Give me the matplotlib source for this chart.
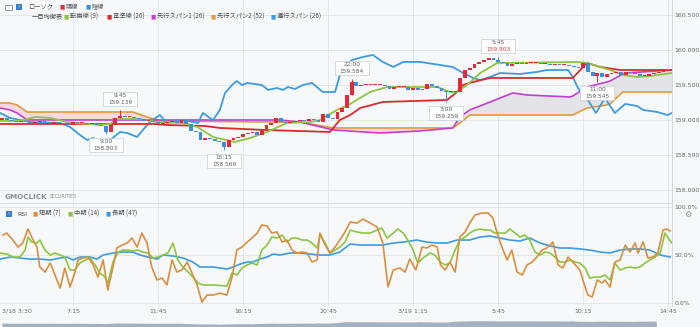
import numpy as np
import matplotlib
matplotlib.use("Agg")
import matplotlib.pyplot as plt
from matplotlib.patches import Rectangle
from matplotlib.transforms import ScaledTranslation

# 15-minute bars, bar 0 = 3/18 3:30
first_open = 159.000
closes = [
    159.029, 159.000, 158.986, 158.971, 158.986, 158.971, 158.957, 158.971, 158.986, 158.971,
    158.957, 158.971, 158.957, 158.943, 158.929, 158.971, 158.957, 158.957, 158.943, 158.943,
    158.929, 158.914, 158.829, 158.929, 159.029, 159.057, 159.043, 159.043, 159.029, 159.014,
    158.986, 158.986, 158.971, 158.943, 158.957, 158.971, 158.986, 158.957, 159.000, 158.943,
    158.843, 158.829, 158.714, 158.743, 158.729, 158.700, 158.686, 158.614, 158.714, 158.743,
    158.757, 158.800, 158.814, 158.829, 158.786, 158.871, 158.929, 158.957, 159.029, 158.971,
    158.957, 158.971, 158.986, 159.000, 158.986, 159.014, 159.000, 158.971, 159.086, 159.029,
    159.014, 159.114, 159.171, 159.357, 159.543, 159.486, 159.500, 159.500, 159.500, 159.500,
    159.500, 159.486, 159.443, 159.471, 159.471, 159.471, 159.429, 159.457, 159.429, 159.443,
    159.514, 159.486, 159.457, 159.414, 159.400, 159.400, 159.400, 159.600, 159.714, 159.743,
    159.800, 159.829, 159.857, 159.886, 159.857, 159.829, 159.814, 159.771, 159.800, 159.814,
    159.800, 159.814, 159.814, 159.814, 159.800, 159.800, 159.786, 159.800, 159.786, 159.786,
    159.771, 159.757, 159.743, 159.814, 159.686, 159.629, 159.671, 159.614, 159.657, 159.671,
    159.686, 159.643, 159.686, 159.671, 159.657, 159.629, 159.629, 159.657, 159.671, 159.686,
    159.729, 159.714,
]

# high / low markers
mark_idx = [22, 25, 47, 74, 94, 105, 126]
mark_time = ["9:00", "9:45", "15:15", "22:00", "3:00", "5:45", "11:00"]
mark_price = [158.803, 159.139, 158.569, 159.584, 159.259, 159.903, 159.545]
mark_high = [False, True, False, True, False, True, False]
mark_red = [False, False, False, False, False, True, False]

# ichimoku lines (bar index, price)
tenkan_idx = [-0.4, 3.8, 7.0, 10.2, 13.8, 20.7, 22.9, 24.3, 29.2, 32.8, 38.3, 41.3, 44.7, 49.3,
              52.5, 56.1, 60.3, 65.2, 67.3, 70.9, 73.7, 77.9, 81.5, 92.1, 94.8, 96.3, 98.4,
              101.2, 104.8, 121.7, 123.8, 128.7, 131.4, 134.4, 137.1, 141.8]
tenkan = [158.986, 158.986, 159.043, 159.029, 158.971, 158.929, 158.943, 159.014, 159.014,
          158.971, 158.957, 158.900, 158.757, 158.686, 158.743, 158.829, 158.957, 158.971,
          159.000, 159.143, 159.229, 159.400, 159.471, 159.471, 159.400, 159.400, 159.500,
          159.671, 159.814, 159.829, 159.814, 159.714, 159.643, 159.614, 159.629, 159.671]

kijun_idx = [-0.4, 32.4, 34.5, 43.0, 46.1, 55.7, 69.4, 71.5, 73.7, 75.8, 80.6, 94.2, 96.3,
             97.6, 99.7, 103.3, 120.8, 123.8, 126.6, 130.8, 141.8]
kijun = [158.943, 158.943, 158.929, 158.914, 158.886, 158.857, 158.829, 159.000, 159.071,
         159.171, 159.257, 159.286, 159.400, 159.500, 159.543, 159.600, 159.600, 159.814,
         159.757, 159.714, 159.714]

kumo_idx = [-0.4, 1.7, 3.2, 3.8, 5.3, 27.7, 30.7, 33.4, 58.8, 63.1, 70.1, 80.0, 88.5, 95.4,
            96.9, 99.0, 103.3, 108.1, 111.1, 120.2, 120.8, 123.8, 128.0, 128.7, 131.4, 131.9, 141.8]
span1 = [159.171, 159.143, 159.100, 159.071, 159.000, 159.000, 159.000, 159.000, 159.000,
         158.971, 158.857, 158.814, 158.843, 158.886, 159.043, 159.143, 159.257, 159.386,
         159.357, 159.329, 159.343, 159.471, 159.543, 159.557, 159.657, 159.671, 159.714]
span2 = [159.243, 159.243, 159.214, 159.186, 159.114, 159.114, 159.043, 158.986, 158.971,
         158.971, 158.886, 158.886, 158.886, 158.886, 158.957, 159.071, 159.071, 159.071,
         159.071, 159.071, 159.071, 159.171, 159.214, 159.229, 159.400, 159.400, 159.400]

chikou_idx = [-0.4, 1.7, 5.9, 12.3, 14.4, 16.5, 18.0, 19.3, 20.7, 22.9, 25.0, 26.5, 28.6, 29.8,
              31.3, 33.4, 34.9, 38.3, 41.5, 42.5, 44.0, 44.7, 46.1, 47.2, 48.7, 49.7, 50.8,
              51.9, 55.0, 56.3, 58.2, 59.5, 60.5, 62.0, 63.7, 65.6, 67.9, 70.5, 71.5, 72.6,
              74.1, 76.4, 78.5, 80.6, 82.8, 84.9, 88.5, 92.7, 95.4, 97.6, 99.7, 101.2, 103.3,
              105.4, 109.6, 113.2, 115.3, 119.8, 120.8, 121.9, 124.4, 125.7, 127.6, 129.7,
              131.9, 134.4, 135.7, 138.7, 140.8, 141.8]
chikou = [159.100, 159.029, 158.971, 158.957, 158.900, 158.786, 158.714, 158.743, 158.686,
          158.714, 158.829, 158.814, 158.757, 158.857, 158.971, 159.071, 158.957, 159.000,
          158.957, 159.100, 159.029, 159.000, 159.143, 159.386, 159.500, 159.557, 159.500,
          159.529, 159.500, 159.429, 159.457, 159.429, 159.471, 159.443, 159.500, 159.529,
          159.400, 159.400, 159.643, 159.771, 159.857, 159.900, 159.929, 159.829, 159.757,
          159.829, 159.829, 159.786, 159.757, 159.671, 159.600, 159.571, 159.614, 159.671,
          159.657, 159.686, 159.714, 159.714, 159.614, 159.457, 159.243, 159.100, 159.314,
          159.100, 159.229, 159.200, 159.143, 159.114, 159.071, 159.100]

# RSI (bar index, %)
rsi_s_idx = [0.2, 1.0, 2.3, 3.4, 4.4, 5.5, 6.6, 7.4, 8.0, 9.1, 10.2, 11.2, 12.3, 13.3, 14.4,
             15.4, 16.1, 17.1, 18.2, 19.3, 20.3, 21.4, 22.4, 23.5, 24.3, 25.4, 26.5, 27.5,
             28.6, 29.6, 30.7, 31.7, 32.8, 33.9, 34.9, 36.0, 37.0, 38.1, 39.2, 40.2, 41.3,
             42.3, 43.4, 44.7, 46.1, 47.6, 48.7, 49.7, 50.8, 51.9, 52.9, 54.0, 55.0, 56.1,
             57.1, 58.2, 59.3, 60.3, 61.4, 62.4, 63.5, 64.6, 65.6, 66.7, 67.3, 68.4, 69.4,
             70.5, 71.5, 72.6, 73.7, 75.1, 76.4, 77.9, 79.4, 80.6, 81.7, 82.8, 84.2, 85.3,
             86.3, 87.6, 88.9, 89.9, 91.0, 92.1, 92.8, 93.8, 94.8, 95.9, 96.9, 98.0, 99.0,
             100.1, 101.6, 102.9, 103.9, 104.8, 105.8, 106.9, 107.9, 109.0, 110.1, 111.1,
             112.2, 113.2, 114.3, 115.3, 116.6, 117.7, 118.7, 119.8, 120.8, 122.3, 123.4,
             124.0, 124.9, 126.0, 127.0, 127.6, 128.7, 129.7, 130.8, 131.9, 132.9, 134.0,
             134.6, 135.7, 136.7, 137.8, 138.8, 139.9, 140.7, 141.4]
rsi_short = [70.8, 72.9, 65.6, 58.3, 62.5, 77.1, 65.6, 58.3, 37.5, 32.3, 41.7, 29.2, 15.6,
             36.5, 16.7, 31.3, 44.8, 46.9, 47.9, 39.6, 27.1, 44.8, 13.5, 37.5, 57.3, 60.4,
             62.5, 67.7, 58.3, 72.9, 62.5, 37.5, 24.0, 26.0, 18.8, 44.8, 32.3, 34.4, 42.7,
             31.3, 18.8, 1.0, 8.3, 8.3, 10.4, 8.3, 27.1, 55.2, 58.3, 63.5, 67.7, 72.9, 81.3,
             80.2, 72.9, 74.0, 63.5, 65.6, 55.2, 52.1, 53.1, 52.1, 42.7, 44.8, 72.9, 60.4,
             52.1, 58.3, 65.6, 74.0, 84.4, 83.3, 87.5, 83.3, 79.2, 62.5, 16.7, 34.4, 36.5,
             32.3, 45.8, 34.4, 58.3, 57.3, 60.4, 58.3, 39.6, 34.4, 42.7, 32.3, 68.8, 74.0,
             83.3, 91.7, 93.8, 93.8, 88.5, 72.9, 58.3, 44.8, 55.2, 32.3, 29.2, 39.6, 42.7,
             47.9, 55.2, 57.3, 63.5, 39.6, 36.5, 47.9, 42.7, 34.4, 16.7, 8.3, 6.3, 24.0,
             20.8, 24.0, 16.7, 42.7, 44.8, 60.4, 53.1, 62.5, 52.1, 63.5, 46.9, 47.9, 52.1,
             76.0, 77.1, 75.0]

rsi_m_idx = [-0.4, 1.1, 2.3, 3.8, 4.9, 5.5, 6.3, 7.4, 8.0, 9.1, 10.2, 11.2, 12.3, 13.3, 14.4,
             15.4, 16.5, 17.6, 18.6, 19.7, 20.7, 21.8, 22.4, 23.5, 24.6, 25.6, 26.7, 27.7,
             28.8, 29.8, 30.9, 32.0, 33.0, 34.1, 35.1, 36.2, 37.2, 38.3, 39.4, 40.4, 41.5,
             42.5, 44.7, 47.6, 48.7, 49.7, 50.8, 51.9, 52.9, 54.0, 55.0, 56.1, 57.1, 58.2,
             59.3, 60.3, 61.4, 62.4, 63.5, 64.6, 65.6, 66.7, 67.3, 68.4, 69.4, 70.5, 71.5,
             72.6, 73.7, 75.1, 76.4, 77.9, 79.4, 80.4, 81.5, 82.8, 83.8, 84.9, 85.9, 87.0,
             88.0, 89.1, 90.6, 91.6, 92.7, 93.8, 94.8, 95.9, 96.9, 98.0, 99.0, 100.1, 101.2,
             102.2, 103.3, 104.3, 106.5, 107.5, 108.6, 109.6, 110.7, 111.7, 112.8, 113.9,
             114.9, 116.0, 117.0, 118.1, 119.2, 120.2, 121.3, 122.3, 123.4, 124.4, 125.5,
             126.6, 127.6, 128.7, 129.7, 130.8, 131.9, 132.9, 134.0, 135.0, 136.1, 137.1,
             138.2, 139.3, 140.3, 141.0, 141.8]
rsi_mid = [52.1, 51.0, 47.9, 47.9, 55.2, 68.8, 63.5, 62.5, 65.6, 55.2, 50.0, 52.1, 50.0, 47.9,
           34.4, 34.4, 41.7, 44.8, 46.9, 39.6, 31.3, 27.1, 20.8, 42.7, 53.1, 55.2, 55.2, 54.2,
           55.2, 53.1, 52.1, 46.9, 47.9, 50.0, 52.1, 62.5, 44.8, 37.5, 32.3, 27.1, 20.8, 18.8,
           18.8, 17.7, 31.3, 29.2, 36.5, 39.6, 41.7, 39.6, 55.2, 60.4, 68.8, 67.7, 70.8, 63.5,
           67.7, 67.7, 65.6, 65.6, 62.5, 57.3, 70.8, 62.5, 52.1, 55.2, 58.3, 63.5, 76.0, 74.0,
           72.9, 72.9, 76.0, 78.1, 67.7, 72.9, 77.1, 72.9, 65.6, 55.2, 41.7, 46.9, 52.1, 50.0,
           42.7, 39.6, 41.7, 55.2, 65.6, 68.8, 72.9, 76.0, 77.1, 76.0, 76.0, 72.9, 72.9, 77.1,
           72.9, 68.8, 70.8, 65.6, 53.1, 50.0, 53.1, 52.1, 47.9, 42.7, 42.7, 44.8, 42.7, 41.7,
           36.5, 26.0, 27.1, 27.1, 29.2, 24.0, 41.7, 34.4, 36.5, 37.5, 36.5, 37.5, 41.7, 44.8,
           47.9, 52.1, 72.9, 67.7, 62.5]

rsi_l_idx = [-0.4, 1.7, 3.8, 5.9, 8.0, 10.2, 12.3, 13.8, 15.0, 16.5, 18.6, 20.1, 21.4, 23.5,
             25.6, 27.7, 29.2, 30.9, 32.8, 34.1, 36.2, 38.3, 40.4, 41.9, 44.7, 46.1, 47.6,
             48.9, 50.4, 51.9, 53.1, 54.6, 56.1, 57.4, 58.8, 61.0, 63.1, 65.2, 67.3, 69.4,
             71.5, 73.7, 75.8, 80.6, 82.8, 84.9, 87.8, 89.9, 92.1, 94.2, 96.3, 99.0, 101.2,
             103.3, 105.4, 107.5, 109.6, 111.7, 113.9, 116.0, 118.1, 120.2, 122.3, 124.4,
             126.6, 128.7, 130.8, 132.9, 135.0, 137.1, 139.3, 141.4]
rsi_long = [45.8, 47.9, 46.9, 45.8, 45.8, 44.8, 46.9, 47.9, 44.8, 47.9, 47.9, 45.8, 50.0, 52.1,
            53.1, 53.1, 50.0, 47.9, 45.8, 50.0, 49.0, 46.9, 42.7, 37.5, 37.5, 36.5, 35.4, 37.5,
            40.6, 42.7, 42.7, 45.8, 47.9, 51.0, 50.0, 52.1, 52.1, 51.0, 50.0, 50.0, 53.1, 61.5,
            60.4, 60.4, 62.5, 63.5, 65.6, 63.5, 62.5, 62.5, 65.6, 65.6, 68.8, 69.8, 67.7, 65.6,
            64.6, 67.7, 62.5, 59.4, 57.3, 57.3, 56.3, 55.2, 53.1, 52.1, 55.2, 56.3, 56.3, 55.2,
            50.0, 47.9]

tick_idx = [0, 15, 33, 51, 69, 87, 105, 123, 141]
tick_labels = ["3/18 3:30", "7:15", "11:45", "16:15", "20:45", "3/19 1:15", "5:45", "10:15", "14:45"]
price_ticks = [158.0, 158.5, 159.0, 159.5, 160.0, 160.5]

RED = "#e6283a"
BLUE = "#3d8fdc"
C_TENKAN = "#8cc63e"
C_KIJUN = "#e0282e"
C_SPAN1 = "#c23fd0"
C_SPAN2 = "#e39a3b"
C_CHIKOU = "#3d9be0"
GRID = "#e1e3e7"
TXT = "#666b73"
BG = "#f7f8fa"
JP = ["Noto Sans CJK JP", "DejaVu Sans"]

W, H = 700, 327
fig = plt.figure(figsize=(7, 3.27), dpi=100, facecolor=BG)


def fx(px):
    return px / W


def fy(py):
    return 1 - py / H


ax = fig.add_axes([0, fy(203), fx(672), 203 / H], facecolor=BG)
rsi_ax = fig.add_axes([0, fy(306), fx(672), 103 / H], facecolor=BG)
nav_ax = fig.add_axes([0, 0, fx(660), 10 / H])

xlim = (-0.42, 141.8)

# ---- main panel
for p in price_ticks:
    ax.axhline(p, color=GRID, lw=0.6, zorder=0)
for t in tick_idx[1:]:
    ax.axvline(t, color=GRID, lw=0.6, zorder=0)

k1 = np.array(span1)
k2 = np.array(span2)
ax.fill_between(kumo_idx, k1, k2, where=k1 >= k2, interpolate=True,
                color="#e3e3e8", lw=0, zorder=1)
ax.fill_between(kumo_idx, k1, k2, where=k1 < k2, interpolate=True,
                color="#f8d6e2", lw=0, zorder=1)
ax.plot(kumo_idx, span2, color=C_SPAN2, lw=1.2, zorder=2)
ax.plot(kumo_idx, span1, color=C_SPAN1, lw=1.2, zorder=2)
ax.plot(chikou_idx, chikou, color=C_CHIKOU, lw=1.3, zorder=2)
ax.plot(kijun_idx, kijun, color=C_KIJUN, lw=1.3, zorder=3)
ax.plot(tenkan_idx, tenkan, color=C_TENKAN, lw=1.3, zorder=3)

c = np.array(closes)
o = np.concatenate([[first_open], c[:-1]])
x = np.arange(len(c))
cols = np.where(c >= o, RED, BLUE)
body_lo = np.minimum(o, c)
body_h = np.maximum(np.abs(c - o), 0.012)
for mi, mp in zip(mark_idx, mark_price):
    ax.vlines(mi, min(mp, body_lo[mi]), max(mp, body_lo[mi] + body_h[mi]),
              color=cols[mi], lw=0.7, zorder=4)
ax.bar(x, body_h, bottom=body_lo, width=0.8, color=cols, lw=0, zorder=4)

# label boxes: box sized in inches, anchored at the marked high / low
box_w, box_h = 0.34, 0.145
for mi, mt, mp, hi, red in zip(mark_idx, mark_time, mark_price, mark_high, mark_red):
    off = 11 if hi else -11
    trans = fig.dpi_scale_trans + ScaledTranslation(mi, mp, ax.transData)
    ax.add_patch(Rectangle((-box_w / 2, off / 100 - box_h / 2), box_w, box_h,
                           transform=trans, fc="white", ec="#c8ccd2", lw=0.5,
                           zorder=6, clip_on=False))
    ax.annotate(mt, xy=(mi, mp), xytext=(0, off + 3.3), textcoords="offset pixels",
                ha="center", va="center", fontsize=4.2, color="#555a62", zorder=7)
    ax.annotate(f"{mp:.3f}", xy=(mi, mp), xytext=(0, off - 3.3), textcoords="offset pixels",
                ha="center", va="center", fontsize=4.2,
                color="#e0393e" if red else "#555a62", zorder=7)

ax.set_xlim(*xlim)
ax.set_ylim(157.814, 160.714)
ax.set_xticks([])
ax.yaxis.tick_right()
ax.set_yticks(price_ticks, [f"{p:.3f}" for p in price_ticks])
ax.tick_params(axis="y", length=0, pad=2, labelsize=4.5, labelcolor=TXT)
for s in ["top", "left", "bottom"]:
    ax.spines[s].set_visible(False)
ax.spines["right"].set_color("#d0d3d8")
ax.spines["right"].set_linewidth(0.6)

# ---- RSI panel
for v in [0, 50, 100]:
    rsi_ax.axhline(v, color=GRID, lw=0.6, zorder=0)
for t in tick_idx[1:]:
    rsi_ax.axvline(t, color=GRID, lw=0.6, zorder=0)
rsi_ax.plot(rsi_l_idx, rsi_long, color=C_CHIKOU, lw=1.2, zorder=2)
rsi_ax.plot(rsi_m_idx, rsi_mid, color=C_TENKAN, lw=1.2, zorder=3)
rsi_ax.plot(rsi_s_idx, rsi_short, color="#d98f3e", lw=1.2, zorder=4)
rsi_ax.set_xlim(*xlim)
rsi_ax.set_ylim(-3.1, 104.2)
rsi_ax.yaxis.tick_right()
rsi_ax.set_yticks([0, 50, 100], ["0.0%", "50.0%", "100.0%"])
rsi_ax.set_xticks(tick_idx, tick_labels)
rsi_ax.get_xticklabels()[0].set_horizontalalignment("left")
rsi_ax.tick_params(length=0, pad=2, labelsize=4.5, labelcolor=TXT)
for s in ["left", "bottom"]:
    rsi_ax.spines[s].set_visible(False)
for s in ["top", "right"]:
    rsi_ax.spines[s].set_color("#d0d3d8")
    rsi_ax.spines[s].set_linewidth(0.6)

# ---- navigator
nav_ax.fill_between(x, c, 157.0, color="#a3b2c3", lw=0)
nav_ax.set_xlim(*xlim)
nav_ax.set_ylim(157.65, 161.17)
nav_ax.axis("off")

# ---- header / legends
fig.add_artist(Rectangle((fx(5), fy(10)), 7 / W, 5 / H, transform=fig.transFigure,
                         fc="none", ec="#8a8f96", lw=0.6))


def blue_box(px, py):
    fig.add_artist(Rectangle((fx(px), fy(py + 3)), 6 / W, 6 / H, transform=fig.transFigure,
                             fc="#3a7fc8", ec="none"))
    fig.text(fx(px + 3), fy(py), "›", color="white", fontsize=4.5, ha="center", va="center")


def item(px, py, color, label):
    fig.text(fx(px), fy(py), "■", color=color, fontsize=4, ha="center", va="center")
    fig.text(fx(px + 4), fy(py), label, color="#4a4f57", fontsize=4.5, family=JP, va="center")


blue_box(16, 7)
fig.text(fx(28), fy(7), "ローソク", color="#4a4f57", fontsize=4.5, family=JP, va="center")
item(62, 7, RED, "陽線")
item(88, 7, BLUE, "陰線")

fig.text(fx(32), fy(17), "一目均衡表", color="#4a4f57", fontsize=4.5, family=JP, va="center")
item(66, 17, C_TENKAN, "転換線 (9)")
item(109, 17, C_KIJUN, "基準線 (26)")
item(153, 17, C_SPAN1, "先行スパン1 (26)")
item(213, 17, C_SPAN2, "先行スパン2 (52)")
item(273, 17, C_CHIKOU, "遅行スパン (26)")

fig.text(fx(5), fy(197), "GMOCLICK", color="#8a8f96", fontsize=5.2, fontweight="bold", va="center")
fig.text(fx(50), fy(197), "SECURITIES", color="#8a8f96", fontsize=3.3, va="center")

blue_box(6, 214)
fig.text(fx(17), fy(214), "RSI", color="#4a4f57", fontsize=4.5, va="center")
item(35, 214, "#d98f3e", "短期 (7)")
item(70, 214, C_TENKAN, "中期 (14)")
item(108, 214, C_CHIKOU, "長期 (47)")

fig.text(fx(688), fy(214), "⚙", color="#8a8f96", fontsize=6, ha="center", va="center")

fig.savefig("out.png", dpi=100, facecolor=BG)
